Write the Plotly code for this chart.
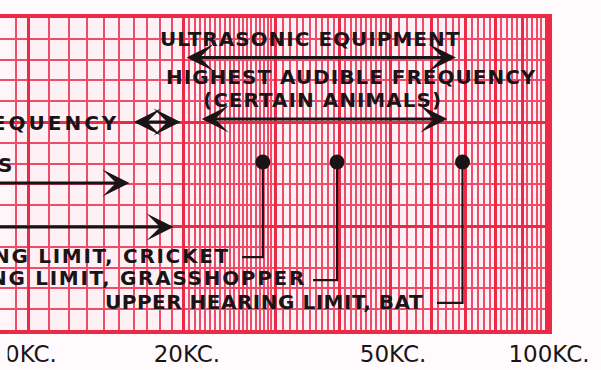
import numpy as np
import plotly.graph_objects as go

# ---------------- data ----------------
tick_kc = [10, 20, 50, 100]
tick_labels = ['10KC.\u00a0\u00a0', '20KC.', '50KC.', '100KC.']

# upper hearing limits (dots)
animals = ['CRICKET', 'GRASSHOPPER', 'BAT']
upper_limit_kc = [28.4, 39.5, 69.0]

# ranges drawn as double arrows in the ultrasonic part
band_names = ['ULTRASONIC EQUIPMENT', 'HIGHEST AUDIBLE FREQUENCY (CERTAIN ANIMALS)']
band_low_kc = [20.1, 21.5]
band_high_kc = [67.0, 64.5]

# audible ranges whose lower ends lie off the left edge
audible_names = ['AUDIBLE FREQUENCY', 'S', '']
audible_low_kc = [15.9, 8.0, 8.0]
audible_high_kc = [19.7, 15.7, 19.1]

# graph-paper rulings (kc)
major_kc = [10, 20, 30, 40, 50, 60, 70, 80, 90, 100]
minor_kc = ([9.5] + list(range(11, 20)) + list(np.arange(20.5, 30, 0.5)) +
            list(range(31, 40)) + list(range(41, 50)) + list(range(52, 60, 2)) +
            list(range(62, 70, 2)) + list(range(72, 80, 2)) + list(range(82, 90, 2)) +
            list(range(92, 100, 2)))

# ---------------- layout constants ----------------
RED = '#ec2a46'
RED_MINOR = '#ee4d69'
INK = '#1b1416'
FONT = 'DejaVu Sans'
PAPER = '#fffafc'

def ls(t, sp):
    return f"<span style='letter-spacing:{sp}px'>{t}</span>"

def tfont(size=20):
    return dict(family=FONT, size=size, color=INK, weight=700)

fig = go.Figure()

# connectors from each dot down to its label
conn_row = [3.5, 2.4, 1.3]
conn_left_kc = [25.9, 35.5, 61.6]
label_row = [3.56, 2.5, 1.35]
label_right_kc = [24.8, 34.7, 58.4]
label_spacing = [1.7, 1.7, 0.5]
DOT_ROW = 8.08

for name, f, r, xl in zip(animals, upper_limit_kc, conn_row, conn_left_kc):
    fig.add_trace(go.Scatter(x=[f, f, xl], y=[DOT_ROW, r, r], mode='lines',
                             line=dict(color=INK, width=2.2), hoverinfo='skip',
                             showlegend=False))
fig.add_trace(go.Scatter(x=upper_limit_kc, y=[DOT_ROW] * 3, mode='markers',
                         marker=dict(color=INK, size=15), text=animals,
                         showlegend=False))

ann = []
for name, f, y, sp in zip(animals, label_right_kc, label_row, label_spacing):
    ann.append(dict(x=np.log10(f), y=y, xref='x', yref='y', xanchor='right',
                    yanchor='middle', showarrow=False,
                    text=ls('UPPER HEARING LIMIT, ' + name, sp), font=tfont()))

# header texts
ann.append(dict(x=np.log10(35.0), y=14.0, xref='x', yref='y', showarrow=False,
                text=ls('ULTRASONIC EQUIPMENT', 1), font=tfont()))
ann.append(dict(x=np.log10(42.1), y=12.16, xref='x', yref='y', showarrow=False,
                text=ls('HIGHEST AUDIBLE FREQUENCY', 1), font=tfont()))
ann.append(dict(x=np.log10(37.0), y=11.06, xref='x', yref='y', showarrow=False,
                text=ls('(CERTAIN ANIMALS)', 1), font=tfont()))

# band arrows
for lo, hi, r in zip(band_low_kc, band_high_kc, [13.1, 10.14]):
    ann.append(dict(x=np.log10(hi), y=r, ax=np.log10(lo), ay=r, xref='x', yref='y',
                    axref='x', ayref='y', text='', showarrow=True, arrowhead=3,
                    arrowside='end+start', arrowsize=1.5, arrowwidth=3, arrowcolor=INK))

# audible arrows (left)
for lo, hi, r, side in zip(audible_low_kc, audible_high_kc, [10.0, 7.07, 4.95],
                           ['end+start', 'end', 'end']):
    ann.append(dict(x=np.log10(hi), y=r, ax=np.log10(lo), ay=r, xref='x', yref='y',
                    axref='x', ayref='y', text='', showarrow=True, arrowhead=3,
                    arrowside=side, arrowsize=1.5, arrowwidth=3, arrowcolor=INK))

ann.append(dict(x=np.log10(15.1), y=9.95, xref='x', yref='y', xanchor='right', showarrow=False,
                text=ls(audible_names[0], 3), font=tfont()))
ann.append(dict(x=np.log10(9.44), y=7.93, xref='x', yref='y', xanchor='right', showarrow=False,
                text=ls(audible_names[1], 0.5), font=tfont()))

x_lo = 10 ** (1 - 28 / 518)
x_hi = 10 ** (1 + 520 / 518)

fig.update_layout(
    width=601, height=370,
    margin=dict(l=0, r=53, t=18, b=40, autoexpand=False),
    paper_bgcolor=PAPER, plot_bgcolor='#fdf1f5',
    annotations=ann,
    shapes=[
        # faded left edge of the photographed sheet
        dict(type='rect', xref='paper', yref='paper', x0=0, x1=0.02, y0=0, y1=1,
             fillcolor='rgba(255,250,252,0.6)', line=dict(width=0), layer='between'),
        dict(type='rect', xref='paper', yref='paper', x0=0, x1=0.014, y0=-0.14, y1=-0.015,
             fillcolor=PAPER, line=dict(width=0), layer='above'),
    ],
    xaxis=dict(type='log', range=[np.log10(x_lo), np.log10(x_hi)], automargin=False,
               tickmode='array', tickvals=major_kc,
               ticktext=[tick_labels[tick_kc.index(v)] if v in tick_kc else '' for v in major_kc],
               showgrid=True, gridcolor=RED, gridwidth=3,
               minor=dict(tickmode='array', tickvals=minor_kc, showgrid=True,
                          gridcolor=RED_MINOR, gridwidth=2, ticks=''),
               ticks='', showline=True, linecolor=RED, linewidth=4, mirror=True,
               tickfont=dict(family=FONT, size=23, color=INK), ticklabelshift=3,
               ticklabelstandoff=0, ticklabeloverflow='allow', zeroline=False),
    yaxis=dict(range=[0, 15], tickvals=[0, 5, 10, 15], showticklabels=False, automargin=False,
               showgrid=True, gridcolor=RED, gridwidth=3,
               minor=dict(dtick=1, tick0=0, showgrid=True, gridcolor=RED_MINOR, gridwidth=2),
               ticks='', showline=True, linecolor=RED, linewidth=4, mirror=True, zeroline=False),
)

fig.write_html('out.html', config={'displayModeBar': False},
               post_script="document.body.style.margin='0';")
